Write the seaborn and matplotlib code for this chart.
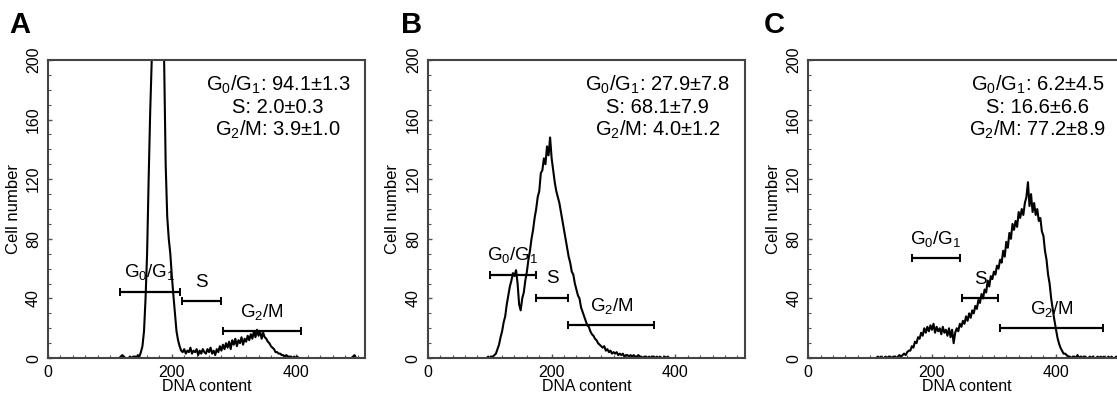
import numpy as np
import pandas as pd
import seaborn as sns
import matplotlib.pyplot as plt
from matplotlib.ticker import MultipleLocator

sns.set_style("ticks")
plt.rcParams['font.family'] = ['Liberation Sans', 'DejaVu Sans']
plt.rcParams['mathtext.fontset'] = 'custom'
plt.rcParams['mathtext.rm'] = 'Liberation Sans'
plt.rcParams['text.color'] = 'black'
plt.rcParams['axes.labelcolor'] = 'black'

# DNA content channel (bins of 2.5)
dna = list(np.arange(0, 512.5, 2.5))

# cell number per bin
cells_a = [0] * 46 + [
    0, 1, 2, 1, 0, 0, 0, 1, 0, 1,
    1, 0, 2, 1, 4, 8, 18, 40, 70, 120,
    165, 200, 200, 200, 200, 200, 200, 200, 200, 200,
    130, 95, 80, 70, 55, 42, 30, 18, 12, 8,
    5, 4, 6, 3, 5, 4, 7, 3, 5, 4,
    6, 2, 5, 3, 6, 4, 3, 6, 4, 7,
    3, 5, 2, 6, 4, 8, 5, 9, 6, 10,
    7, 11, 6, 12, 9, 13, 8, 12, 10, 14,
    9, 13, 11, 15, 12, 16, 13, 18, 14, 19,
    15, 18, 13, 17, 14, 13, 11, 10, 8, 7,
    6, 4, 4, 3, 3, 2, 2, 1, 2, 1,
    1, 1, 0, 1, 0, 1, 0, 0, 0, 0,
    0, 0, 0] + [0] * 28 + [1, 2] + [0] * 6

cells_b = [0] * 38 + [
    0, 1, 0, 1, 1, 2, 3, 6, 9, 14,
    18, 24, 28, 36, 42, 48, 52, 57, 55, 59,
    50, 36, 32, 40, 44, 52, 58, 66, 72, 80,
    86, 94, 100, 108, 112, 124, 126, 134, 130, 142,
    136, 148, 134, 126, 118, 112, 108, 104, 98, 92,
    86, 80, 74, 68, 64, 58, 56, 50, 46, 42,
    40, 34, 31, 28, 25, 22, 21, 18, 16, 15,
    13, 12, 10, 9, 8, 7, 8, 5, 6, 4,
    5, 3, 4, 3, 4, 2, 3, 2, 3, 1,
    2, 2, 1, 2, 1, 2, 1, 1, 2, 1,
    1, 0, 1, 1, 0, 1, 0, 1, 1, 0,
    1, 0, 1, 0, 0, 1, 0, 1, 0, 0,
    0, 0, 0, 0, 0, 0, 0, 0, 0, 0, 0] + [0] * 36

cells_c = [0] * 44 + [
    0, 1, 0, 1, 0, 0, 1, 0, 1, 1,
    0, 1, 1, 0, 1, 2, 1, 2, 3, 2,
    4, 5, 5, 8, 7, 11, 10, 14, 13, 17,
    15, 20, 17, 21, 18, 22, 19, 23, 17, 21,
    18, 20, 16, 21, 17, 19, 15, 20, 14, 19,
    10, 17, 20, 18, 23, 21, 25, 23, 28, 25,
    30, 27, 32, 30, 35, 33, 39, 37, 43, 40,
    46, 44, 52, 48, 55, 53, 58, 56, 62, 60,
    66, 64, 72, 68, 78, 74, 84, 80, 90, 86,
    92, 88, 98, 94, 100, 96, 104, 108, 118, 102,
    110, 98, 104, 96, 100, 92, 94, 85, 82, 72,
    66, 56, 50, 40, 33, 26, 20, 14, 10, 7,
    5, 3, 3, 2, 1] + [
    1, 0, 1, 1, 0, 2, 0, 1, 0, 1,
    1, 0, 0, 1, 0, 1, 0, 0, 1, 0,
    1, 0, 1, 0, 0, 1, 0, 1, 0, 0,
    1, 0, 0, 1, 0, 0]

# gates: (start, end, level)
phase_labels = [r'$\mathregular{G_0/G_1}$', 'S', r'$\mathregular{G_2/M}$']
gates_a = [(116, 213, 44.5), (216, 280, 38), (282, 409, 18)]
gates_b = [(100, 175, 56), (175, 227, 40.5), (227, 366, 22)]
gates_c = [(167, 245, 67), (248, 307, 40), (310, 476, 20)]

# phase percentages (mean, sd)
stats_a = ['94.1±1.3', '2.0±0.3', '3.9±1.0']
stats_b = ['27.9±7.8', '68.1±7.9', '4.0±1.2']
stats_c = ['6.2±4.5', '16.6±6.6', '77.2±8.9']

panels = [('A', cells_a, gates_a, stats_a, 0.043, 0.008),
          ('B', cells_b, gates_b, stats_b, 0.383, 0.359),
          ('C', cells_c, gates_c, stats_c, 0.7235, 0.684)]

fig = plt.figure(figsize=(11.17, 3.97), dpi=100)

for letter, cells, gates, stats, left, lx in panels:
    ax = fig.add_axes([left, 0.098, 0.2838, 0.751])
    df = pd.DataFrame({'DNA content': dna, 'Cell number': cells})
    sns.lineplot(data=df, x='DNA content', y='Cell number', ax=ax,
                 color='black', lw=1.5)
    ax.set_xlim(0, 512)
    ax.set_ylim(0, 200)
    ax.set_xticks([0, 200, 400])
    ax.set_yticks([0, 40, 80, 120, 160, 200])
    ax.xaxis.set_minor_locator(MultipleLocator(20))
    ax.yaxis.set_minor_locator(MultipleLocator(10))
    ax.tick_params(which='both', direction='in', colors='#555555',
                   labelcolor='black', labelsize=11.5)
    ax.tick_params(which='major', length=3, width=1)
    ax.tick_params(which='minor', length=2, width=0.8)
    ax.tick_params(axis='y', labelrotation=90, pad=5)
    ax.tick_params(axis='x', pad=5)
    for lab in ax.get_yticklabels():
        lab.set_va('center')
    for s in ax.spines.values():
        s.set_color('#444444')
        s.set_linewidth(1.5)
    ax.set_xlabel('DNA content', fontsize=11.5, labelpad=-1)
    ax.set_ylabel('Cell number', fontsize=12, labelpad=4)

    for (lo, hi, lev), name in zip(gates, phase_labels):
        ax.errorbar((lo + hi) / 2, lev, xerr=(hi - lo) / 2, color='black',
                    lw=1.6, capsize=2.6, capthick=1.4)
        ax.annotate(name, ((lo + hi) / 2, lev), xytext=(0, 10.5),
                    textcoords='offset points', ha='center', va='baseline',
                    fontsize=13.5)

    for i, (name, val) in enumerate(zip(phase_labels, stats)):
        ax.text(0.725, 0.897 - i * 0.076, name + ': ' + val,
                transform=ax.transAxes, ha='center', va='baseline',
                fontsize=14.5)

    fig.text(lx, 0.917, letter, fontsize=21, fontweight='bold',
             ha='left', va='baseline')

fig.savefig('out.png', dpi=100)
